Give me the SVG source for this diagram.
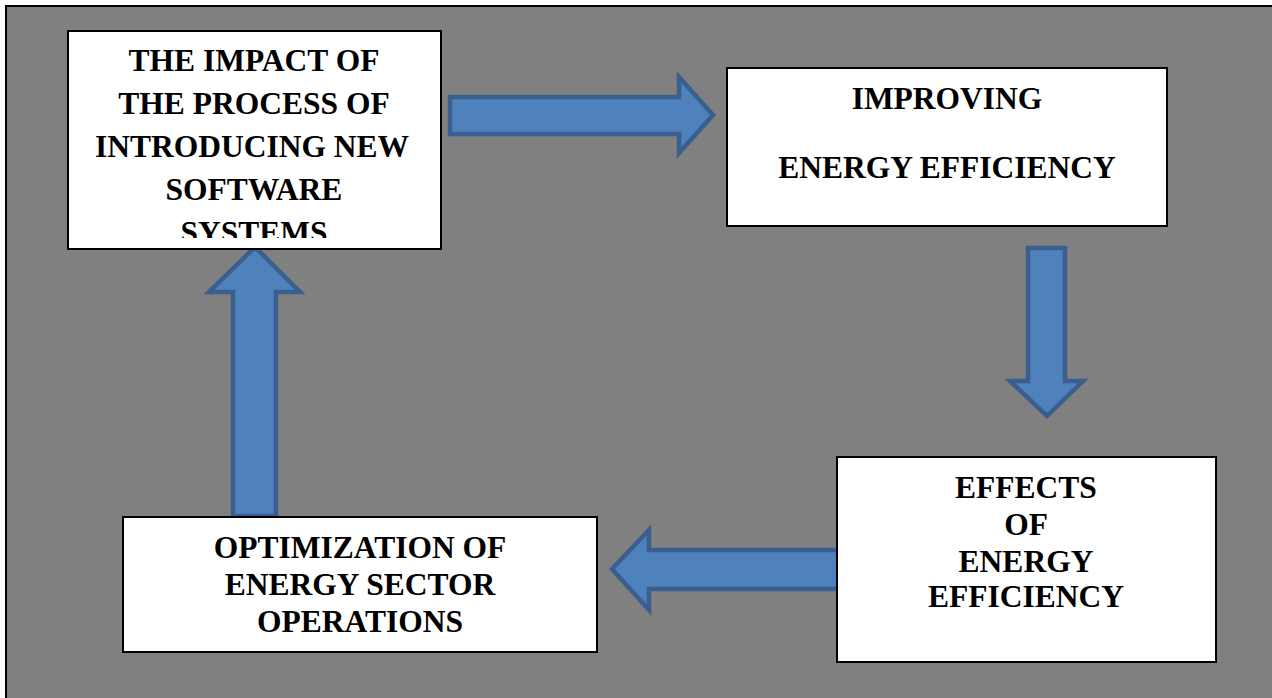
<svg xmlns="http://www.w3.org/2000/svg" width="1272" height="698" viewBox="0 0 1272 698">
<style>
.box{fill:#ffffff;stroke:#000000;stroke-width:2}
text{font-family:'Liberation Serif',serif;font-weight:700;font-size:31.5px;fill:#000000;text-anchor:middle}
.arr{fill:#4F81BD;stroke:#3A5F8E;stroke-width:4.5;stroke-linejoin:miter}
</style>
<defs>
<clipPath id="c1"><rect x="69" y="32" width="371" height="206"/></clipPath>
</defs>
<rect x="0" y="0" width="1272" height="698" fill="#ffffff"/>
<rect x="6" y="6" width="1272" height="698" fill="#808080" stroke="#000000" stroke-width="2"/>
<g id="connectors">
<path class="arr" d="M450,97 L679,97 L679,77 L713,115 L679,153 L679,134 L450,134 Z"/>
<path class="arr" d="M1028,248 L1065,248 L1065,381 L1083,381 L1047,416 L1010,381 L1028,381 Z"/>
<path class="arr" d="M839,550 L649,550 L649,530 L612,569 L649,610 L649,589 L839,589 Z"/>
<path class="arr" d="M233,516 L276,516 L276,292 L300,292 L255,247 L209,292 L233,292 Z"/>
</g>
<g id="node1">
<rect class="box" x="68" y="31" width="373" height="218"/>
<g clip-path="url(#c1)" font-family="Liberation Serif, serif">
<text x="254" y="71">THE IMPACT OF</text>
<text x="254" y="114">THE PROCESS OF</text>
<text x="252" y="157">INTRODUCING NEW</text>
<text x="254" y="200">SOFTWARE</text>
<text x="254" y="243">SYSTEMS</text>
</g>
</g>
<g id="node2">
<rect class="box" x="727" y="68" width="440" height="158"/>
<text x="947" y="109">IMPROVING</text>
<text x="947" y="178">ENERGY EFFICIENCY</text>
</g>
<g id="node3">
<rect class="box" x="837" y="457" width="379" height="205"/>
<text x="1026" y="498">EFFECTS</text>
<text x="1026" y="535">OF</text>
<text x="1026" y="572">ENERGY</text>
<text x="1026" y="607">EFFICIENCY</text>
</g>
<g id="node4">
<rect class="box" x="123" y="517" width="474" height="135"/>
<text x="360" y="558">OPTIMIZATION OF</text>
<text x="360" y="595">ENERGY SECTOR</text>
<text x="360" y="632">OPERATIONS</text>
</g>
</svg>
